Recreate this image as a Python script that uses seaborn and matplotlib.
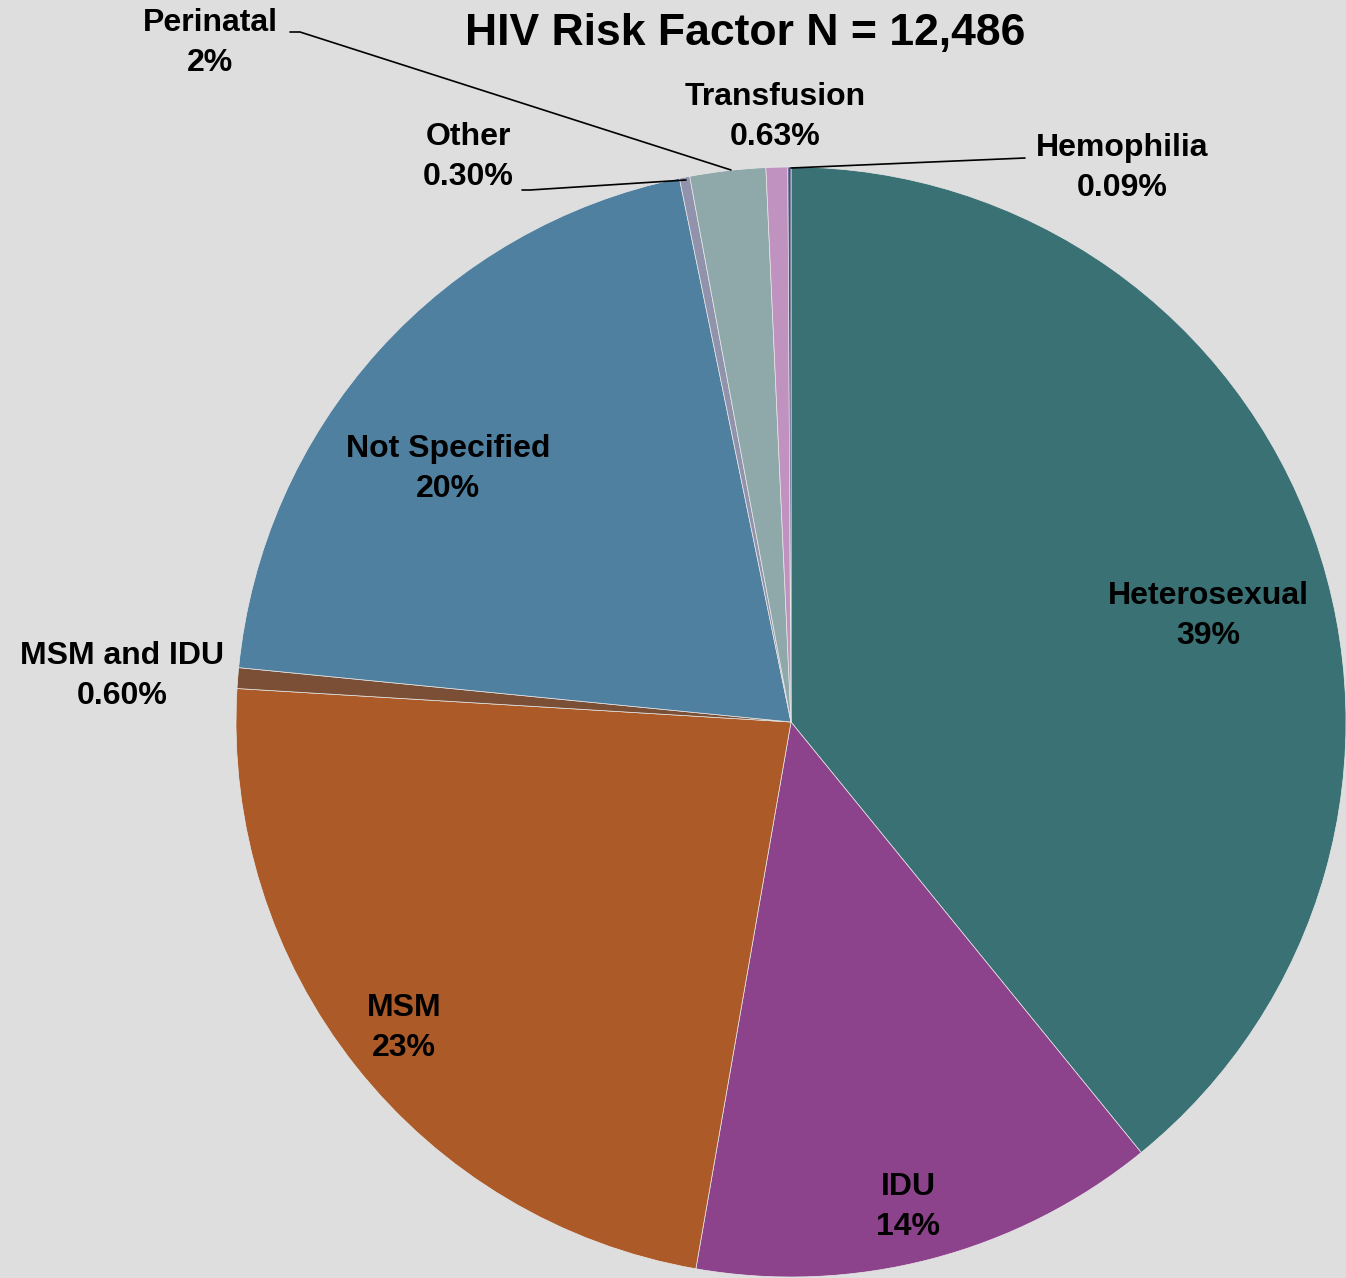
import matplotlib
matplotlib.use("Agg")
import matplotlib.pyplot as plt
import seaborn as sns

# data (percent of N = 12,486), clockwise from 12 o'clock
categories = ["Heterosexual", "IDU", "MSM", "MSM and IDU", "Not Specified",
              "Other", "Perinatal", "Transfusion", "Hemophilia"]
shares = [39.1, 13.6, 23.2, 0.60, 20.2, 0.30, 2.2, 0.63, 0.09]
pct_labels = ["39%", "14%", "23%", "0.60%", "20%", "0.30%", "2%", "0.63%", "0.09%"]
title = "HIV Risk Factor N = 12,486"

colors = ["#3A7174", "#8C438C", "#AB5A28", "#7B4F35", "#5080A0",
          "#9093AB", "#8FA8AA", "#C092C0", "#4A4E7E"]

sns.set_theme(style="white")
plt.rcParams["font.family"] = ["Liberation Sans", "DejaVu Sans"]

W, H = 1346, 1278
fig = plt.figure(figsize=(W / 100, H / 100), dpi=100, facecolor="#DEDEDE")
ax = fig.add_axes([0, 0, 1, 1])
ax.set_facecolor("#DEDEDE")

cx, cy, r = 791, H - 722, 555
ax.pie(shares, colors=colors, startangle=90, counterclock=False,
       center=(cx, cy), radius=r,
       wedgeprops=dict(edgecolor="#E8E8E8", linewidth=0.5))
ax.set_xlim(0, W)
ax.set_ylim(0, H)
ax.set_aspect("equal")
ax.axis("off")

# label positions in pixel coords (x, y from top)
label_pos = [(1208, 616), (908, 1207), (404, 1028), (122, 676), (448, 469),
             (468, 157), (210, 43), (775, 117), (1122, 168)]
for name, pct, (x, y) in zip(categories, pct_labels, label_pos):
    ax.text(x, H - y, f"{name}\n{pct}", ha="center", va="center",
            fontsize=23, fontweight="bold", color="black", linespacing=1.45)

# leader lines
leaders = {
    "Perinatal": [(290, 32), (300, 32), (731, 170)],
    "Other": [(522, 190), (530, 190), (686, 180)],
    "Hemophilia": [(1025, 158), (791, 168)],
}
for pts in leaders.values():
    ax.plot([p[0] for p in pts], [H - p[1] for p in pts], color="black", lw=1.2)

ax.text(745, H - 33, title, ha="center", va="center",
        fontsize=32, fontweight="bold", color="black")

fig.savefig("out.png", dpi=100, facecolor=fig.get_facecolor())
